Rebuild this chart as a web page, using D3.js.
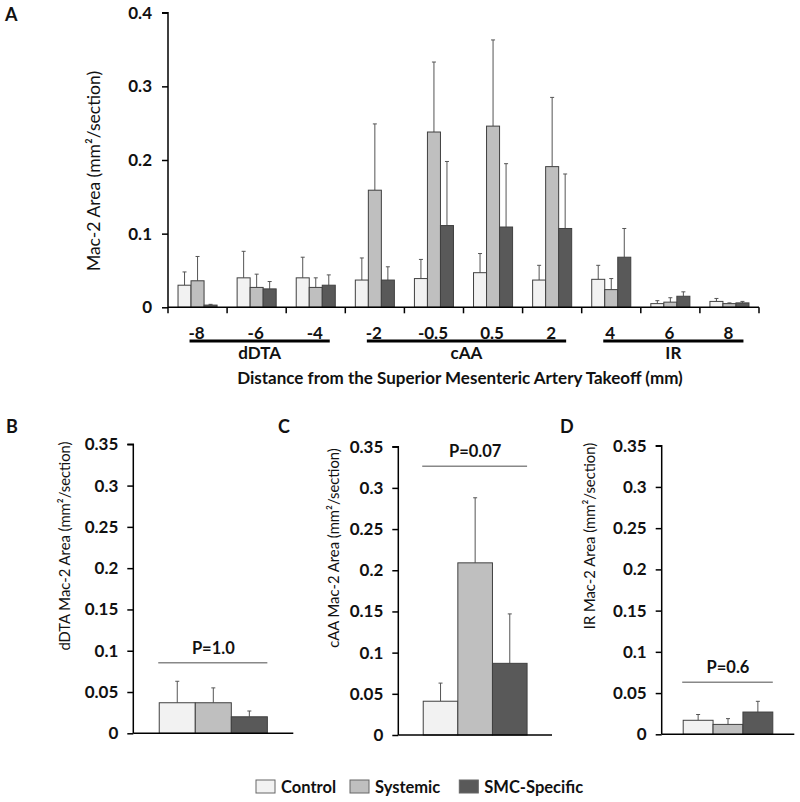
<!DOCTYPE html>
<html>
<head>
<meta charset="utf-8">
<script src="https://cdn.jsdelivr.net/npm/d3@7"></script>
<style>
  body { margin: 0; background: #fff; }
  svg { display: block; font-family: Lato, "Open Sans", sans-serif; }
</style>
</head>
<body>
<svg id="chart" width="800" height="802"></svg>
<script>
// ---------- DATA ----------
const series = ["Control", "Systemic", "SMC-Specific"];
const seriesColors = ["#f2f2f2", "#bfbfbf", "#595959"];

// Panel A
const distances = ["-8", "-6", "-4", "-2", "-0.5", "0.5", "2", "4", "6", "8"];
const controlA   = [0.030, 0.040, 0.040, 0.037, 0.039, 0.047, 0.037, 0.038, 0.005, 0.008];
const controlAErr= [0.018, 0.036, 0.028, 0.030, 0.026, 0.026, 0.020, 0.019, 0.004, 0.004];
const systemicA  = [0.036, 0.027, 0.027, 0.159, 0.238, 0.246, 0.191, 0.024, 0.007, 0.005];
const systemicAErr=[0.033, 0.018, 0.013, 0.090, 0.095, 0.117, 0.094, 0.015, 0.006, 0.001];
const smcA       = [0.003, 0.025, 0.030, 0.037, 0.111, 0.109, 0.107, 0.068, 0.015, 0.006];
const smcAErr    = [0.001, 0.010, 0.014, 0.018, 0.087, 0.086, 0.074, 0.039, 0.006, 0.002];
const regions = [
  { name: "dDTA", from: "-8", to: "-4" },
  { name: "cAA",  from: "-2", to: "2" },
  { name: "IR",   from: "4",  to: "8" }
];
const ticksA = [0, 0.1, 0.2, 0.3, 0.4];

// Panels B, C, D  (Control, Systemic, SMC-Specific)
const dDTAValues = [0.037, 0.037, 0.020];
const dDTAErrors = [0.026, 0.018, 0.007];
const cAAValues  = [0.041, 0.209, 0.087];
const cAAErrors  = [0.022, 0.079, 0.060];
const irValues   = [0.017, 0.012, 0.027];
const irErrors   = [0.007, 0.007, 0.013];
const ticksSmall = [0, 0.05, 0.1, 0.15, 0.2, 0.25, 0.3, 0.35];
const pValues = ["P=1.0", "P=0.07", "P=0.6"];

// ---------- DRAW ----------
const svg = d3.select("#chart");
const fmt = d => String(d);
const barStroke = "#404040";
const errColor = "#555";

function drawErr(g, cx, yTop, yErr, capW) {
  g.append("line").attr("x1", cx).attr("x2", cx).attr("y1", yTop).attr("y2", yErr)
    .attr("stroke", errColor).attr("stroke-width", 1);
  g.append("line").attr("x1", cx - capW / 2).attr("x2", cx + capW / 2).attr("y1", yErr).attr("y2", yErr)
    .attr("stroke", errColor).attr("stroke-width", 1);
}

// ----- Panel A -----
{
  const x0 = 168, x1 = 759, yTop = 12.7, yBot = 307.3;
  const x = d3.scaleBand().domain(distances).range([x0, x1]).padding(0);
  const xs = d3.scaleBand().domain(series).range([0, x.bandwidth()]).paddingInner(0).paddingOuter(0.77);
  const y = d3.scaleLinear().domain([0, 0.4]).range([yBot, yTop]);
  const g = svg.append("g");
  const vals = [controlA, systemicA, smcA];
  const errs = [controlAErr, systemicAErr, smcAErr];

  series.forEach((s, si) => {
    distances.forEach((d, i) => {
      const bx = x(d) + xs(s);
      const bw = xs.bandwidth();
      drawErr(g, bx + bw / 2, y(vals[si][i]), y(vals[si][i] + errs[si][i]), 4);
    });
  });
  series.forEach((s, si) => {
    g.selectAll(null).data(distances).enter().append("rect")
      .attr("x", d => x(d) + xs(s))
      .attr("width", xs.bandwidth())
      .attr("y", (d, i) => y(vals[si][i]))
      .attr("height", (d, i) => yBot - y(vals[si][i]))
      .attr("fill", seriesColors[si])
      .attr("stroke", barStroke).attr("stroke-width", 1);
  });

  // y axis
  const ya = g.append("g").attr("transform", `translate(${x0},0)`)
    .call(d3.axisLeft(y).tickValues(ticksA).tickSize(6).tickPadding(10).tickFormat(fmt));
  ya.select(".domain").attr("stroke", "#000").attr("stroke-width", 1.5).attr("d", `M-6,${yTop}H0V${yBot}`);
  ya.selectAll(".tick line").attr("stroke", "#000").attr("stroke-width", 1.5);
  ya.selectAll(".tick text").attr("font-size", 17).attr("font-weight", "bold").attr("fill", "#111")
    .attr("font-family", "Lato, sans-serif");

  // x axis with boundary ticks
  const xa = g.append("g");
  xa.append("line").attr("x1", x0).attr("x2", x1).attr("y1", yBot).attr("y2", yBot)
    .attr("stroke", "#000").attr("stroke-width", 1.5);
  const bounds = distances.map(d => x(d)).concat([x1]);
  xa.selectAll(null).data(bounds).enter().append("line")
    .attr("x1", d => d).attr("x2", d => d).attr("y1", yBot).attr("y2", yBot + 6)
    .attr("stroke", "#000").attr("stroke-width", 1.5);
  xa.selectAll(null).data(distances).enter().append("text")
    .attr("x", d => x(d) + x.bandwidth() / 2 - 1)
    .attr("y", 338.5).attr("text-anchor", "middle")
    .attr("font-size", 17).attr("font-weight", "bold").attr("fill", "#111")
    .text(d => d);

  // region underlines and labels
  regions.forEach(r => {
    const l = x(r.from) + x.bandwidth() / 2 - 8;
    const rr = x(r.to) + x.bandwidth() / 2 + 14;
    g.append("line").attr("x1", l).attr("x2", rr).attr("y1", 341).attr("y2", 341)
      .attr("stroke", "#000").attr("stroke-width", 3);
    g.append("text").attr("x", (l + rr) / 2).attr("y", 359).attr("text-anchor", "middle")
      .attr("font-size", 17).attr("font-weight", "bold").attr("fill", "#111").text(r.name);
  });

  g.append("text").attr("x", 460).attr("y", 383.5).attr("text-anchor", "middle")
    .attr("font-size", 17).attr("font-weight", "bold").attr("fill", "#111")
    .text("Distance from the Superior Mesenteric Artery Takeoff (mm)");

  g.append("text").attr("transform", `translate(100,171) rotate(-90)`)
    .attr("text-anchor", "middle").attr("font-size", 17.5).attr("fill", "#111")
    .text("Mac-2 Area (mm²/section)");

  g.append("text").attr("x", 5).attr("y", 21).attr("font-size", 18).attr("font-weight", "bold")
    .attr("fill", "#111").text("A");
}

// ----- Panels B, C, D -----
const small = [
  { letter: "B", lx: 6,   x0: 133.3, x1: 293.3, y0: 733.3, y35: 444.3, vals: dDTAValues, errs: dDTAErrors,
    title: "dDTA Mac-2  Area (mm²/section)", tx: 70, ty: 546, p: pValues[0], pLine: 662.7 },
  { letter: "C", lx: 278, x0: 398.3, x1: 552,   y0: 735,   y35: 446.7, vals: cAAValues,  errs: cAAErrors,
    title: "cAA Mac-2 Area (mm²/section)", tx: 339, ty: 548, p: pValues[1], pLine: 466.3 },
  { letter: "D", lx: 560, x0: 661.7, x1: 794.3, y0: 734.3, y35: 445.7, vals: irValues,   errs: irErrors,
    title: "IR Mac-2 Area (mm²/section)", tx: 595, ty: 536, p: pValues[2], pLine: 682.3 }
];

small.forEach(P => {
  const g = svg.append("g");
  const x = d3.scaleBand().domain(series).range([P.x0, P.x1]).paddingInner(0).paddingOuter(0.72);
  const y = d3.scaleLinear().domain([0, 0.35]).range([P.y0, P.y35]);

  series.forEach((s, i) => {
    drawErr(g, x(s) + x.bandwidth() / 2, y(P.vals[i]), y(P.vals[i] + P.errs[i]), 4);
  });
  g.selectAll(null).data(series).enter().append("rect")
    .attr("x", d => x(d)).attr("width", x.bandwidth())
    .attr("y", (d, i) => y(P.vals[i])).attr("height", (d, i) => P.y0 - y(P.vals[i]))
    .attr("fill", (d, i) => seriesColors[i]).attr("stroke", barStroke).attr("stroke-width", 1);

  const ya = g.append("g").attr("transform", `translate(${P.x0},0)`)
    .call(d3.axisLeft(y).tickValues(ticksSmall).tickSize(6).tickPadding(9).tickFormat(fmt));
  ya.select(".domain").attr("stroke", "#000").attr("stroke-width", 1.5).attr("d", `M-6,${P.y35}H0V${P.y0}`);
  ya.selectAll(".tick line").attr("stroke", "#000").attr("stroke-width", 1.5);
  ya.selectAll(".tick text").attr("font-size", 17).attr("font-weight", "bold").attr("fill", "#111")
    .attr("font-family", "Lato, sans-serif");

  g.append("line").attr("x1", P.x0).attr("x2", P.x1).attr("y1", P.y0).attr("y2", P.y0)
    .attr("stroke", "#000").attr("stroke-width", 1.5);

  // p-value bracket line
  const pl = x(series[0]), pr = x(series[2]) + x.bandwidth();
  g.append("line").attr("x1", pl - 1).attr("x2", pr).attr("y1", P.pLine).attr("y2", P.pLine)
    .attr("stroke", "#888").attr("stroke-width", 1.5);
  g.append("text").attr("x", (pl + pr) / 2).attr("y", P.pLine - 9).attr("text-anchor", "middle")
    .attr("font-size", 16.5).attr("font-weight", "bold").attr("fill", "#111").text(P.p);

  g.append("text").attr("transform", `translate(${P.tx},${P.ty}) rotate(-90)`)
    .attr("text-anchor", "middle").attr("font-size", 14.8).attr("fill", "#111")
    .text(P.title);

  g.append("text").attr("x", P.lx).attr("y", 433).attr("font-size", 18).attr("font-weight", "bold")
    .attr("fill", "#111").text(P.letter);
});

// ----- Legend -----
{
  const legendX = [256, 350, 459.3];
  const g = svg.append("g");
  series.forEach((s, i) => {
    g.append("rect").attr("x", legendX[i]).attr("y", 780).attr("width", 19).attr("height", 13)
      .attr("fill", seriesColors[i]).attr("stroke", "#666").attr("stroke-width", 1);
    g.append("text").attr("x", legendX[i] + 25).attr("y", 793)
      .attr("font-size", 16.5).attr("font-weight", "bold").attr("fill", "#111").text(s);
  });
}
</script>
</body>
</html>
